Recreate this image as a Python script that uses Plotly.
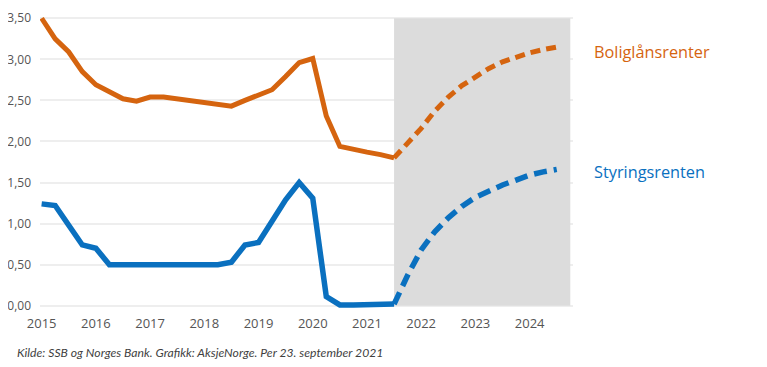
import plotly.graph_objects as go

# Historical quarterly data
hist_x = [2015.0, 2015.25, 2015.5, 2015.75, 2016.0, 2016.25, 2016.5, 2016.75,
          2017.0, 2017.25, 2017.5, 2017.75, 2018.0, 2018.25, 2018.5, 2018.75,
          2019.0, 2019.25, 2019.5, 2019.75, 2020.0, 2020.25, 2020.5, 2020.75,
          2021.0, 2021.25, 2021.5]
bolig_hist = [3.50, 3.25, 3.09, 2.85, 2.69, 2.61, 2.52, 2.49,
              2.54, 2.54, 2.52, 2.49, 2.47, 2.45, 2.43, 2.50,
              2.57, 2.63, 2.79, 2.96, 3.01, 2.31, 1.94, 1.90,
              1.87, 1.84, 1.80]
styring_hist = [1.24, 1.22, 0.98, 0.74, 0.70, 0.50, 0.50, 0.50,
                0.50, 0.50, 0.50, 0.50, 0.50, 0.50, 0.53, 0.74,
                0.77, 1.02, 1.29, 1.50, 1.31, 0.11, 0.01, 0.01,
                0.01, 0.01, 0.02]

# Forecast quarterly data
fc_x = [2021.5, 2021.75, 2022.0, 2022.25, 2022.5, 2022.75, 2023.0, 2023.25,
        2023.5, 2023.75, 2024.0, 2024.25, 2024.5]
bolig_fc = [1.80, 1.97, 2.16, 2.37, 2.54, 2.68, 2.79, 2.89,
            2.97, 3.03, 3.08, 3.12, 3.15]
styring_fc = [0.02, 0.37, 0.68, 0.90, 1.07, 1.21, 1.32, 1.40,
              1.47, 1.53, 1.59, 1.63, 1.66]

x_ticks = [2015, 2016, 2017, 2018, 2019, 2020, 2021, 2022, 2023, 2024]
y_ticks = [0, 0.5, 1.0, 1.5, 2.0, 2.5, 3.0, 3.5]
forecast_start, forecast_end = 2021.5, 2024.75

ORANGE = "#D5640F"
BLUE = "#0A70BF"

fig = go.Figure()
fig.add_trace(go.Scatter(x=hist_x, y=bolig_hist, mode="lines",
                         line=dict(color=ORANGE, width=5), hoverinfo="skip"))
fig.add_trace(go.Scatter(x=fc_x, y=bolig_fc, mode="lines",
                         line=dict(color=ORANGE, width=5, dash="10px,6px"), hoverinfo="skip"))
fig.add_trace(go.Scatter(x=hist_x, y=styring_hist, mode="lines",
                         line=dict(color=BLUE, width=5.5), hoverinfo="skip"))
fig.add_trace(go.Scatter(x=fc_x, y=styring_fc, mode="lines",
                         line=dict(color=BLUE, width=5.5, dash="13px,7px"), hoverinfo="skip"))

fig.add_shape(type="rect", xref="x", yref="y", x0=forecast_start, x1=forecast_end,
              y0=0, y1=3.5, fillcolor="#DCDCDC", line=dict(width=0), layer="between")

fig.add_annotation(text="Boliglånsrenter", xref="paper", yref="y", x=1.036, y=3.09,
                   xanchor="left", yanchor="middle", showarrow=False,
                   font=dict(family="Open Sans", size=16.3, color=ORANGE))
fig.add_annotation(text="Styringsrenten", xref="paper", yref="y", x=1.036, y=1.63,
                   xanchor="left", yanchor="middle", showarrow=False,
                   font=dict(family="Open Sans", size=16.3, color=BLUE))
fig.add_annotation(text="Kilde: SSB og Norges Bank. Grafikk: AksjeNorge. Per 23. september 2021",
                   xref="paper", yref="paper", x=-0.047, y=-0.149,
                   xanchor="left", yanchor="middle", showarrow=False,
                   font=dict(family="Lato", size=12.2, color="#3F3F3F", style="italic"))

fig.update_layout(
    width=767, height=367,
    margin=dict(l=32, r=202, t=7, b=66, autoexpand=False),
    paper_bgcolor="white", plot_bgcolor="white",
    showlegend=False,
    separators=", ",
    font=dict(family="Open Sans", color="#555555"),
    xaxis=dict(range=[2014.97, 2024.8], tickvals=x_ticks, ticktext=[str(v) for v in x_ticks],
               showgrid=False, zeroline=False, showline=False, ticks="", automargin=False,
               tickfont=dict(size=13, color="#555555"), ticklabelstandoff=5),
    yaxis=dict(range=[-0.04, 3.54], tickvals=y_ticks, tickformat=".2f", automargin=False,
               showgrid=True, gridcolor="#EEEEEE", gridwidth=1.5, zeroline=False,
               showline=False, ticks="", tickfont=dict(size=12, color="#555555"),
               ticklabelstandoff=8),
)

fig.write_html("out.html")
